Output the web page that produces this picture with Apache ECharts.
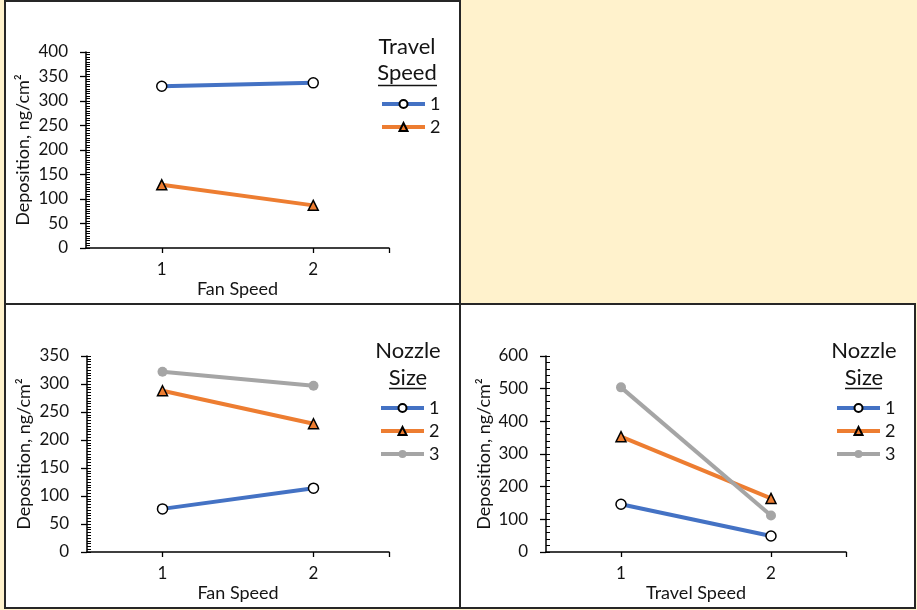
<!DOCTYPE html>
<html>
<head>
<meta charset="utf-8">
<script src="https://cdn.jsdelivr.net/npm/echarts@6/dist/echarts.min.js"></script>
<style>
  html, body { margin: 0; padding: 0; background: #FFF2CC; }
  #chart { width: 917px; height: 610px; }
</style>
</head>
<body>
<div id="chart"></div>
<script>
// Factor levels on the x axes
const fanSpeedLevels = [1, 2];
const travelSpeedLevels = [1, 2];

// Deposition (ng/cm²) by fan speed, one line per travel speed
const byFanTravel1 = [330, 337];
const byFanTravel2 = [129, 87];

// Deposition by fan speed, one line per nozzle size
const byFanNozzle1 = [77, 114];
const byFanNozzle2 = [288, 229];
const byFanNozzle3 = [322, 297];

// Deposition by travel speed, one line per nozzle size
const byTravelNozzle1 = [146, 49];
const byTravelNozzle2 = [353, 164];
const byTravelNozzle3 = [504, 112];

// Y axis ranges: [max, major step, minor step]
const yRangeFanTravel = [400, 50, 5];
const yRangeFanNozzle = [350, 50, 5];
const yRangeTravelNozzle = [600, 100, 20];

const FONT = 'Lato, "Open Sans", sans-serif';
const INK = '#141414';
const BLUE = '#4472C4', ORANGE = '#ED7D31', GRAY = '#A5A5A5';

const pairs = (xs, ys) => xs.map((x, i) => [x, ys[i]]);

function lineSeries(name, levels, values, idx, kind) {
  const s = {
    name: name,
    type: 'line',
    xAxisIndex: idx,
    yAxisIndex: idx * 2,
    data: pairs(levels, values),
    lineStyle: { width: 4 },
    emphasis: { disabled: true },
    animation: false,
    z: 3
  };
  if (kind === 'circle') {
    s.symbol = 'circle';
    s.symbolSize = 10;
    s.lineStyle.color = BLUE;
    s.itemStyle = { color: '#ffffff', borderColor: '#000000', borderWidth: 1.5 };
  } else if (kind === 'triangle') {
    s.symbol = 'triangle';
    s.symbolSize = 10;
    s.lineStyle.color = ORANGE;
    s.itemStyle = { color: ORANGE, borderColor: '#000000', borderWidth: 1.5 };
  } else {
    s.symbol = 'circle';
    s.symbolSize = 10;
    s.lineStyle.color = GRAY;
    s.itemStyle = { color: GRAY, borderWidth: 0 };
  }
  return s;
}

function xAxisFor(idx, title) {
  return {
    type: 'value', gridIndex: idx, min: 0.5, max: 2.5,
    name: title, nameLocation: 'middle', nameGap: 32,
    nameTextStyle: { fontFamily: FONT, fontSize: 18, color: INK },
    axisLine: { show: true, onZero: false, lineStyle: { color: '#000', width: 1.5 } },
    axisTick: { show: true, length: 5, customValues: [1, 2, 2.5], lineStyle: { color: '#000', width: 1.3 } },
    axisLabel: { show: true, customValues: [1, 2], margin: 13, fontFamily: FONT, fontSize: 17, color: INK },
    splitLine: { show: false }
  };
}

// Primary axis: labels and outward major ticks; companion axis: inward minor ticks
function yAxesFor(idx, range, gap) {
  const base = { type: 'value', gridIndex: idx, min: 0, max: range[0], position: 'left' };
  return [
    Object.assign({}, base, {
      interval: range[1],
      name: 'Deposition, ng/cm²', nameLocation: 'middle', nameRotate: 90, nameGap: gap,
      nameTextStyle: { fontFamily: FONT, fontSize: 18, color: INK },
      axisLine: { show: true, lineStyle: { color: '#000', width: 1.5 } },
      axisTick: { show: true, length: 6, lineStyle: { color: '#000', width: 1.3 } },
      axisLabel: { margin: 18, fontFamily: FONT, fontSize: 17, color: INK },
      splitLine: { show: false }
    }),
    Object.assign({}, base, {
      interval: range[2],
      axisLine: { show: false },
      axisTick: { show: true, inside: true, length: 4, lineStyle: { color: '#000', width: 1 } },
      axisLabel: { show: false },
      splitLine: { show: false }
    })
  ];
}

function legendFor(left, top, names) {
  return {
    orient: 'vertical', left: left, top: top, padding: 0,
    itemWidth: 43, itemHeight: 10, itemGap: 5,
    selectedMode: false,
    data: names,
    lineStyle: { width: 4 },
    textStyle: { fontFamily: FONT, fontSize: 18, lineHeight: 18, color: INK }
  };
}

function legendTitle(cx, y1, y2, word1, word2, ulx1, ulx2, uly) {
  const txt = (t, y) => ({
    type: 'text', x: cx, y: y,
    style: { text: t, fontFamily: FONT, fontSize: 22, fill: INK, align: 'center', verticalAlign: 'middle' }
  });
  return [
    txt(word1, y1), txt(word2, y2),
    { type: 'line', shape: { x1: ulx1, y1: uly, x2: ulx2, y2: uly }, style: { stroke: INK, lineWidth: 1.5 } }
  ];
}

const panelRect = (x, y, w, h) => ({
  type: 'rect', z: -10, shape: { x: x, y: y, width: w, height: h },
  style: { fill: '#ffffff', stroke: '#262626', lineWidth: 2 }
});

const [yA, yA2] = yAxesFor(0, yRangeFanTravel, 54);
const [yB, yB2] = yAxesFor(1, yRangeFanNozzle, 54);
const [yC, yC2] = yAxesFor(2, yRangeTravelNozzle, 53);

const option = {
  backgroundColor: '#FFF2CC',
  animation: false,
  textStyle: { fontFamily: FONT },
  grid: [
    { left: 86, top: 52, width: 303, height: 196 },
    { left: 87, top: 356, width: 302, height: 196 },
    { left: 546, top: 356, width: 300, height: 196 }
  ],
  xAxis: [
    xAxisFor(0, 'Fan Speed'),
    xAxisFor(1, 'Fan Speed'),
    xAxisFor(2, 'Travel Speed')
  ],
  yAxis: [yA, yA2, yB, yB2, yC, yC2],
  legend: [
    legendFor(380, 95, ['1', '2']),
    legendFor(379, 399, ['1', '2', '3']),
    legendFor(835, 399, ['1', '2', '3'])
  ],
  graphic: [
    panelRect(5, 1, 455, 303),
    panelRect(5, 304, 455, 304),
    panelRect(460, 304, 455, 304),
    ...legendTitle(407, 47, 73, 'Travel', 'Speed', 378, 437, 85.5),
    ...legendTitle(408, 351, 378, 'Nozzle', 'Size', 389, 426, 388.5),
    ...legendTitle(864, 351, 378, 'Nozzle', 'Size', 845, 882, 388.5)
  ],
  series: [
    lineSeries('1', fanSpeedLevels, byFanTravel1, 0, 'circle'),
    lineSeries('2', fanSpeedLevels, byFanTravel2, 0, 'triangle'),
    lineSeries('1', fanSpeedLevels, byFanNozzle1, 1, 'circle'),
    lineSeries('2', fanSpeedLevels, byFanNozzle2, 1, 'triangle'),
    lineSeries('3', fanSpeedLevels, byFanNozzle3, 1, 'gray'),
    lineSeries('1', travelSpeedLevels, byTravelNozzle1, 2, 'circle'),
    lineSeries('2', travelSpeedLevels, byTravelNozzle2, 2, 'triangle'),
    lineSeries('3', travelSpeedLevels, byTravelNozzle3, 2, 'gray')
  ]
};

const chart = echarts.init(document.getElementById('chart'), null, { renderer: 'canvas' });
chart.setOption(option);
</script>
</body>
</html>
